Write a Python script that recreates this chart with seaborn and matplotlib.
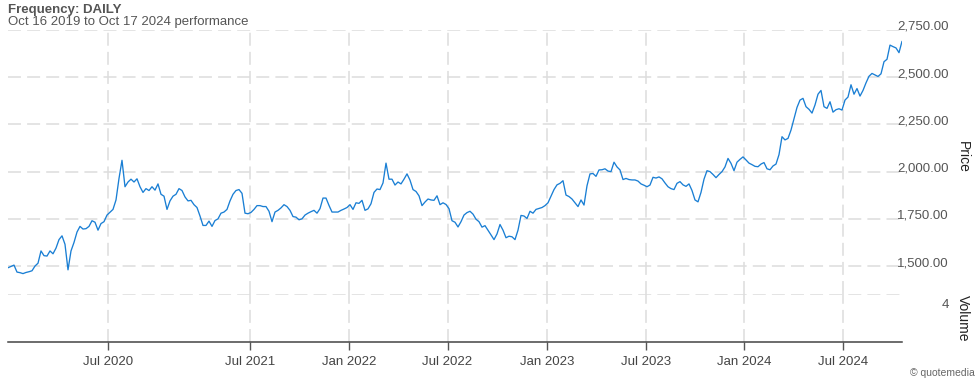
import numpy as np
import pandas as pd
import seaborn as sns
import matplotlib.pyplot as plt

# daily close, one value per equal step along the x axis
price = [
    1491, 1498, 1505, 1468, 1465, 1460, 1466, 1470, 1475, 1500,
    1515, 1580, 1555, 1553, 1580, 1565, 1595, 1640, 1660, 1615,
    1480, 1580, 1625, 1680, 1710, 1696, 1698, 1710, 1740, 1732,
    1690, 1725, 1735, 1770, 1785, 1800, 1850, 1964, 2060, 1920,
    1945, 1960, 1945, 1962, 1920, 1890, 1910, 1900, 1920, 1902,
    1935, 1880, 1870, 1800, 1845, 1870, 1880, 1910, 1900, 1866,
    1845, 1848, 1825, 1810, 1765, 1715, 1715, 1738, 1710, 1741,
    1750, 1780, 1786, 1800, 1845, 1880, 1900, 1905, 1885, 1780,
    1777, 1784, 1800, 1820, 1820, 1815, 1815, 1790, 1735, 1786,
    1795, 1808, 1825, 1815, 1795, 1762, 1759, 1745, 1750, 1770,
    1780, 1788, 1795, 1780, 1804, 1860, 1860, 1821, 1786, 1786,
    1786, 1795, 1802, 1810, 1825, 1800, 1835, 1832, 1848, 1795,
    1803, 1830, 1890, 1908, 1905, 1940, 2045, 1960, 1960, 1929,
    1945, 1935, 1960, 1988, 1955, 1905, 1895, 1872, 1820, 1839,
    1855, 1850, 1848, 1872, 1825, 1835, 1826, 1804, 1740, 1732,
    1707, 1735, 1770, 1783, 1790, 1775, 1748, 1735, 1706, 1714,
    1690, 1665, 1640, 1670, 1720, 1690, 1650, 1658, 1655, 1640,
    1690, 1768, 1765, 1752, 1790, 1780, 1800, 1805, 1810, 1820,
    1835, 1870, 1905, 1930, 1938, 1952, 1876, 1868, 1855, 1835,
    1815, 1850, 1823, 1925, 1988, 1990, 1975, 2009, 2010, 2015,
    2003, 2000, 2050, 2025, 2009, 1958, 1964, 1958, 1956, 1956,
    1950, 1935, 1928, 1920, 1929, 1970, 1966, 1972, 1962, 1940,
    1920, 1910, 1905, 1938, 1947, 1930, 1922, 1935, 1900, 1850,
    1840, 1890, 1960, 2005, 2000, 1985, 1968, 1985, 2000, 2025,
    2070, 2044, 2005, 2050, 2065, 2078, 2062, 2045, 2037, 2028,
    2026, 2040, 2048, 2015, 2010, 2030, 2040, 2090, 2185, 2168,
    2176, 2220, 2280, 2340, 2379, 2388, 2344, 2330, 2310, 2353,
    2410, 2430, 2344, 2335, 2370, 2315, 2328, 2333, 2326, 2379,
    2395, 2460, 2410, 2440, 2400, 2430, 2470, 2505, 2520, 2512,
    2504, 2518, 2582, 2595, 2670, 2662, 2655, 2630, 2690,
]

# the chart's x axis runs on trading-day steps, so labels sit at step positions
date_ticks = [33.33, 80.67, 113.67, 146.5, 179.83, 212.53, 245.33, 278.33]
date_labels = ["Jul 2020", "Jul 2021", "Jan 2022", "Jul 2022",
               "Jan 2023", "Jul 2023", "Jan 2024", "Jul 2024"]
price_ticks = [1500, 1750, 2000, 2250, 2500, 2750]
volume_ticks = [4]

sns.set_style("white")
plt.rcParams["font.family"] = ["Liberation Sans", "DejaVu Sans"]

df = pd.DataFrame({"step": np.arange(len(price)), "price": price})

W, H = 980, 379
fig = plt.figure(figsize=(W / 100, H / 100), dpi=100)
ax = fig.add_axes([8 / W, 1 - 294 / H, 894 / W, 264 / H])
axv = fig.add_axes([8 / W, 1 - 342 / H, 894 / W, 48 / H], sharex=ax)

grid_kw = dict(color="#dddddd", linestyle=(0, (8.5, 4)), linewidth=1.1)

sns.lineplot(data=df, x="step", y="price", color="#1a7fd4",
             linewidth=0.95, ax=ax, zorder=3)
ax.set_xlim(0, len(price) - 1)
ax.set_ylim(1352, 2750)
ax.set_yticks(price_ticks)
ax.yaxis.set_major_formatter(lambda v, p: f"{v:,.2f}")
ax.yaxis.tick_right()
ax.tick_params(axis="y", length=0, pad=33.8, labelsize=9.5, labelcolor="#555555")
ax.tick_params(axis="x", length=0, labelbottom=False)
plt.setp(ax.get_yticklabels(), ha="right", va="baseline")
ax.grid(True, **grid_kw)
ax.set_xlabel("")
ax.set_ylabel("")

axv.set_ylim(0, 5)
axv.set_yticks(volume_ticks)
axv.yaxis.tick_right()
axv.tick_params(axis="y", length=0, pad=33.8, labelsize=9.5, labelcolor="#555555")
plt.setp(axv.get_yticklabels(), ha="right")
axv.set_xticks(date_ticks)
axv.set_xticklabels(date_labels)
axv.tick_params(axis="x", length=6, width=1, color="#555555", pad=4,
                labelsize=9.5, labelcolor="#444444", bottom=True)
axv.grid(True, axis="x", **grid_kw)
axv.axhline(5, **grid_kw)

sns.despine(ax=ax, left=True, bottom=True, right=True, top=True)
sns.despine(ax=axv, left=True, bottom=False, right=True, top=True)
axv.spines["bottom"].set_color("#444444")
axv.spines["bottom"].set_linewidth(1.1)

fig.text(8 / W, 1 - 12.5 / H, "Frequency: DAILY", fontsize=9.5,
         fontweight="bold", color="#555555", va="baseline")
fig.text(8 / W, 1 - 25.5 / H, "Oct 16 2019 to Oct 17 2024 performance",
         fontsize=9.5, color="#555555", va="baseline")
fig.text(963 / W, 1 - 157 / H, "Price", rotation=270, fontsize=10,
         color="#222222", ha="center", va="center")
fig.text(963 / W, 1 - 318 / H, "Volume", rotation=270, fontsize=10,
         color="#222222", ha="center", va="center")
fig.text(975 / W, 1 - 376 / H, "© quotemedia", fontsize=7.5,
         color="#666666", ha="right", va="baseline")

fig.savefig("out.png", dpi=100)
